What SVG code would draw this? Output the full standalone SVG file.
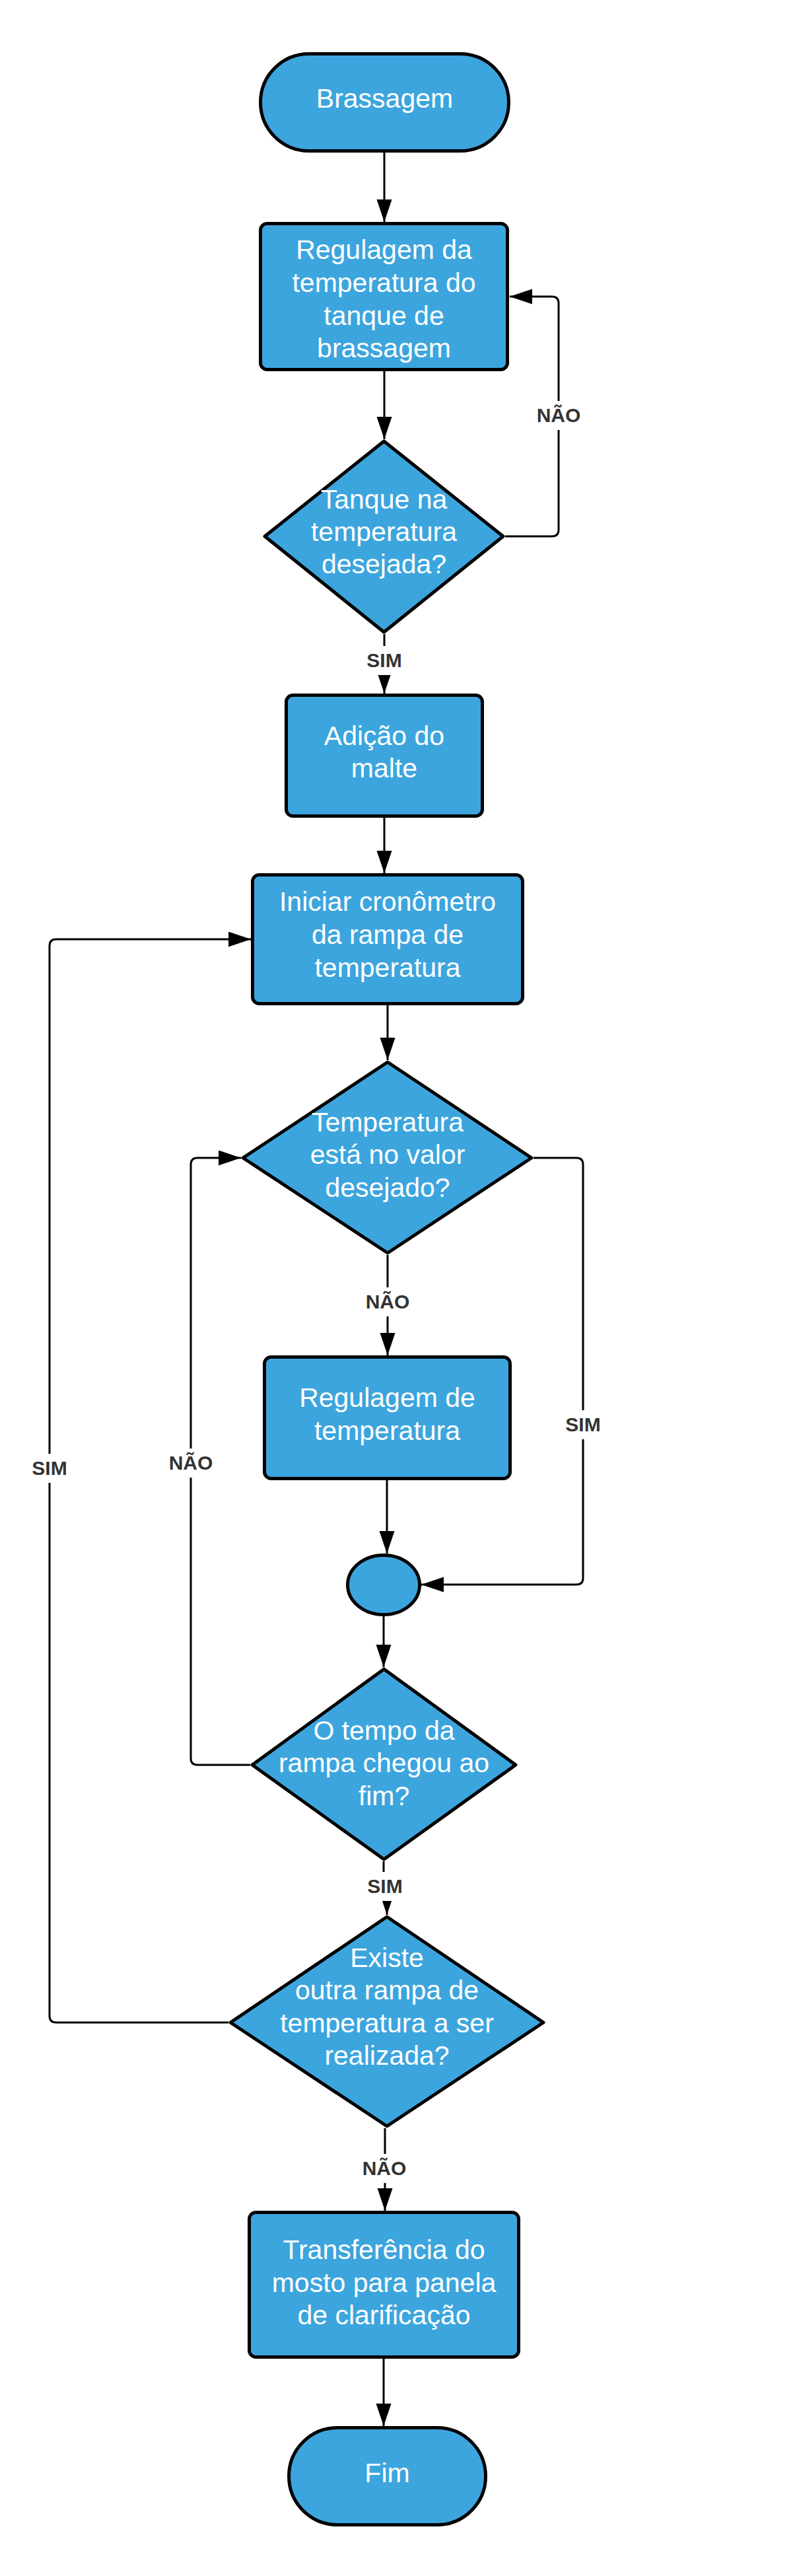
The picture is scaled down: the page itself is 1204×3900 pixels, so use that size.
<svg xmlns="http://www.w3.org/2000/svg" width="1204" height="3900" viewBox="0 0 1204 3900">
<defs>
<style>
.node{fill:#3DA5DD;stroke:#000;stroke-width:5;stroke-linejoin:round}
.t{font-family:"Liberation Sans",Arial,sans-serif;font-size:41px;fill:#fff;text-anchor:middle}
.c{fill:none;stroke:#000;stroke-width:3;marker-end:url(#ah)}
.lb{fill:#fff}
.lt{font-family:"Liberation Sans",Arial,sans-serif;font-size:30px;font-weight:bold;fill:#333;text-anchor:middle}
</style>
<marker id="ah" markerUnits="userSpaceOnUse" markerWidth="36" markerHeight="24" refX="34" refY="11.5" orient="auto">
<path d="M0,0 L34,11.5 L0,23 z" fill="#000"/>
</marker>
</defs>
<rect width="1204" height="3900" fill="#fff"/>
<g id="connectors">
<path class="c" d="M582,231 V336"/>
<path class="c" d="M582,562 V665"/>
<path class="c" d="M765,812 H836 Q846,812 846,802 V459 Q846,449 836,449 H772"/>
<path class="c" d="M582,960 V1050"/>
<path class="c" d="M582,1238 V1322"/>
<path class="c" d="M587,1522 V1605"/>
<path class="c" d="M587,1900 V2052"/>
<path class="c" d="M808,1753 H873 Q883,1753 883,1763 V2389 Q883,2399 873,2399 H638"/>
<path class="c" d="M586,2241 V2352"/>
<path class="c" d="M581,2447 V2524"/>
<path class="c" d="M379,2672 H299 Q289,2672 289,2662 V1763 Q289,1753 299,1753 H365"/>
<path class="c" d="M581,2818 V2855 H586 V2899"/>
<path class="c" d="M346,3062 H85 Q75,3062 75,3052 V1432 Q75,1422 85,1422 H380"/>
<path class="c" d="M583,3222 V3347"/>
<path class="c" d="M581,3571 V3673"/>
<g id="labels">
<rect class="lb" x="807" y="607" width="78" height="44"/><text class="lt" x="846" y="639">NÃO</text>
<rect class="lb" x="550" y="978" width="64" height="44"/><text class="lt" x="582" y="1010">SIM</text>
<rect class="lb" x="548" y="1949" width="78" height="44"/><text class="lt" x="587" y="1981">NÃO</text>
<rect class="lb" x="851" y="2135" width="64" height="44"/><text class="lt" x="883" y="2167">SIM</text>
<rect class="lb" x="250" y="2193" width="78" height="44"/><text class="lt" x="289" y="2225">NÃO</text>
<rect class="lb" x="43" y="2201" width="64" height="44"/><text class="lt" x="75" y="2233">SIM</text>
<rect class="lb" x="551" y="2834" width="64" height="44"/><text class="lt" x="583" y="2866">SIM</text>
<rect class="lb" x="543" y="3261" width="78" height="44"/><text class="lt" x="582" y="3293">NÃO</text>
</g>
</g>
<g id="n_brassagem">
<rect class="node" x="394.5" y="81.5" width="376" height="147" rx="73.5"/>
<text class="t" x="582.5" y="163">Brassagem</text>
</g>
<g id="n_regulagem_tanque">
<rect class="node" x="394.5" y="338.5" width="374" height="221" rx="10"/>
<text class="t" x="581.5" y="392">Regulagem da</text>
<text class="t" x="581.5" y="442">temperatura do</text>
<text class="t" x="581.5" y="492">tanque de</text>
<text class="t" x="581.5" y="541">brassagem</text>
</g>
<g id="n_tanque_temp">
<polygon class="node" points="581.5,668 762,812 581.5,957 401,812"/>
<text class="t" x="581.5" y="770">Tanque na</text>
<text class="t" x="581.5" y="819">temperatura</text>
<text class="t" x="581.5" y="868">desejada?</text>
</g>
<g id="n_adicao">
<rect class="node" x="433.5" y="1052.5" width="297" height="183" rx="10"/>
<text class="t" x="582" y="1128">Adição do</text>
<text class="t" x="582" y="1177">malte</text>
</g>
<g id="n_iniciar">
<rect class="node" x="382.5" y="1324.5" width="409" height="195" rx="10"/>
<text class="t" x="587" y="1379">Iniciar cronômetro</text>
<text class="t" x="587" y="1429">da rampa de</text>
<text class="t" x="587" y="1479">temperatura</text>
</g>
<g id="n_temp_valor">
<polygon class="node" points="587,1608 805,1753 587,1897 368,1753"/>
<text class="t" x="587" y="1713">Temperatura</text>
<text class="t" x="587" y="1762">está no valor</text>
<text class="t" x="587" y="1812">desejado?</text>
</g>
<g id="n_regulagem_temp">
<rect class="node" x="400.5" y="2054.5" width="372" height="184" rx="10"/>
<text class="t" x="586.5" y="2130">Regulagem de</text>
<text class="t" x="586.5" y="2180">temperatura</text>
</g>
<g id="n_juncao">
<ellipse class="node" cx="581" cy="2399.5" rx="54.5" ry="45"/>
</g>
<g id="n_tempo_fim">
<polygon class="node" points="581.5,2527 781,2672 581.5,2815 382,2672"/>
<text class="t" x="581.5" y="2634">O tempo da</text>
<text class="t" x="581.5" y="2683">rampa chegou ao</text>
<text class="t" x="581.5" y="2733">fim?</text>
</g>
<g id="n_outra_rampa">
<polygon class="node" points="586,2902 823,3062 586,3219 349,3062"/>
<text class="t" x="586" y="2978">Existe</text>
<text class="t" x="586" y="3027">outra rampa de</text>
<text class="t" x="586" y="3077">temperatura a ser</text>
<text class="t" x="586" y="3126">realizada?</text>
</g>
<g id="n_transferencia">
<rect class="node" x="377.5" y="3349.5" width="408" height="219" rx="10"/>
<text class="t" x="581.5" y="3420">Transferência do</text>
<text class="t" x="581.5" y="3470">mosto para panela</text>
<text class="t" x="581.5" y="3519">de clarificação</text>
</g>
<g id="n_fim">
<rect class="node" x="437.5" y="3675.5" width="298" height="147" rx="73.5"/>
<text class="t" x="586.5" y="3758">Fim</text>
</g>
</svg>
